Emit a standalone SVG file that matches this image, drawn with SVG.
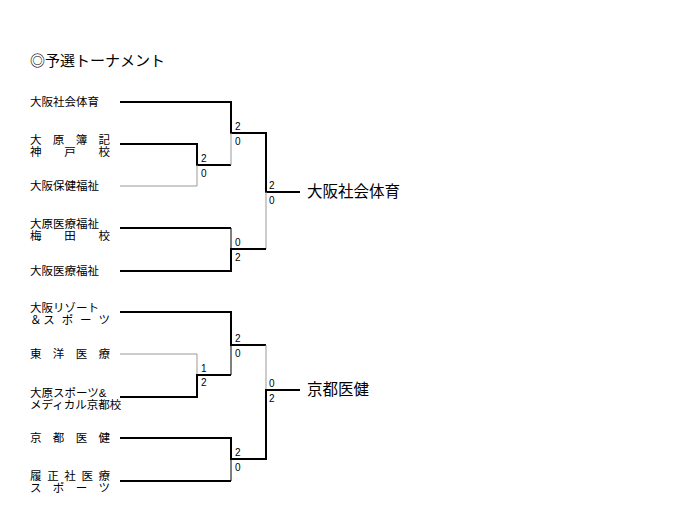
<svg xmlns="http://www.w3.org/2000/svg" width="674" height="513" viewBox="0 0 674 513">
<style>
text{font-family:"Liberation Sans","Noto Sans CJK JP",sans-serif;fill:#000}
.n{font-size:11.5px}
.s{font-size:10px}
.w{font-size:15.5px}
.k{stroke:#000;stroke-width:2;fill:none}
.t{stroke:#000;stroke-width:1;fill:none}
.g{stroke:#999;stroke-width:1;fill:none}
</style>
<rect width="674" height="513" fill="#fff"/>
<text x="30" y="66" style="font-size:15px">◎予選トーナメント</text>
<g id="connectors">
<path class="k" d="M120,102H231V133H266V192H300"/>
<path class="k" d="M120,144H197V165H231"/>
<path class="g" d="M231,165V133"/>
<path class="g" d="M120,186H197V165"/>
<path class="g" d="M266,192V249"/>
<path class="k" d="M120,228H231"/>
<path class="t" d="M231,228V249"/>
<path class="k" d="M120,271H231V249H266"/>
<path class="k" d="M120,312H231V345H266"/>
<path class="g" d="M266,345V390"/>
<path class="g" d="M120,354H197V375"/>
<path class="k" d="M120,397H197V375H231"/>
<path class="t" d="M231,375V345"/>
<path class="k" d="M120,438H231V459H266V390H300"/>
<path class="k" d="M120,481H231"/>
<path class="t" d="M231,481V459"/>
</g>
<g id="n1"><text class="n" x="30" y="106">大阪社会体育</text></g>
<g id="n2"><text class="n" x="30" y="144" textLength="80">大 原 簿 記</text><text class="n" x="30" y="156" textLength="80">神　 戸　 校</text></g>
<g id="n3"><text class="n" x="30" y="190">大阪保健福祉</text></g>
<g id="n4"><text class="n" x="30" y="228">大原医療福祉</text><text class="n" x="30" y="240" textLength="80">梅　 田　 校</text></g>
<g id="n5"><text class="n" x="30" y="275">大阪医療福祉</text></g>
<g id="n6"><text class="n" x="30" y="312">大阪リゾート</text><text class="n" x="30" y="324" textLength="80">＆ス ポ ー ツ</text></g>
<g id="n7"><text class="n" x="30" y="358" textLength="80">東 洋 医 療</text></g>
<g id="n8"><text class="n" x="30" y="397">大原スポーツ&amp;</text><text class="n" x="30" y="409">メディカル京都校</text></g>
<g id="n9"><text class="n" x="30" y="442" textLength="80">京 都 医 健</text></g>
<g id="n10"><text class="n" x="30" y="480" textLength="80">履 正 社 医 療</text><text class="n" x="30" y="492" textLength="80">ス ポ ー ツ</text></g>
<g id="scores">
<text class="s" x="235" y="130">2</text><text class="s" x="235" y="145">0</text>
<text class="s" x="201" y="162">2</text><text class="s" x="201" y="177">0</text>
<text class="s" x="269" y="189">2</text><text class="s" x="269" y="204">0</text>
<text class="s" x="235" y="246">0</text><text class="s" x="235" y="261">2</text>
<text class="s" x="235" y="342">2</text><text class="s" x="235" y="357">0</text>
<text class="s" x="201" y="372">1</text><text class="s" x="201" y="386">2</text>
<text class="s" x="269" y="387">0</text><text class="s" x="269" y="402">2</text>
<text class="s" x="235" y="456">2</text><text class="s" x="235" y="471">0</text>
</g>
<g id="w1"><text class="w" x="307" y="197">大阪社会体育</text></g>
<g id="w2"><text class="w" x="307" y="395">京都医健</text></g>
</svg>
